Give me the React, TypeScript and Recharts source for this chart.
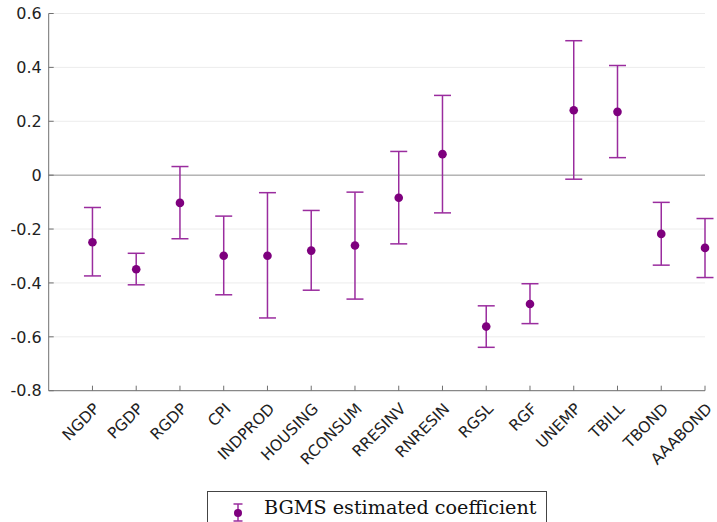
import React from 'react';
import {
  ComposedChart,
  Scatter,
  ErrorBar,
  XAxis,
  YAxis,
  CartesianGrid,
  ReferenceLine,
} from 'recharts';

// Forecast variables on the horizontal axis
const variables = [
  'NGDP', 'PGDP', 'RGDP', 'CPI', 'INDPROD', 'HOUSING', 'RCONSUM', 'RRESINV',
  'RNRESIN', 'RGSL', 'RGF', 'UNEMP', 'TBILL', 'TBOND', 'AAABOND',
];

// Point estimates of the BGMS coefficient
const estimates = [
  -0.249, -0.349, -0.103, -0.299, -0.299, -0.28, -0.261, -0.084,
  0.078, -0.562, -0.478, 0.241, 0.235, -0.218, -0.27,
];

// Lower and upper ends of the confidence intervals
const lowerBounds = [
  -0.374, -0.407, -0.236, -0.444, -0.53, -0.427, -0.46, -0.255,
  -0.14, -0.639, -0.551, -0.015, 0.065, -0.334, -0.38,
];
const upperBounds = [
  -0.12, -0.29, 0.032, -0.152, -0.065, -0.131, -0.063, 0.088,
  0.296, -0.485, -0.403, 0.499, 0.407, -0.101, -0.161,
];

const yTicks = [-0.8, -0.6, -0.4, -0.2, 0, 0.2, 0.4, 0.6];
const xTicks = variables.map((_, i) => i + 1);

const data = variables.map((name, i) => ({
  x: i + 1,
  y: estimates[i],
  err: [estimates[i] - lowerBounds[i], upperBounds[i] - estimates[i]],
}));

const AXIS_COLOR = '#707070';
const BAR_COLOR = '#9a2c9e';
const DOT_COLOR = '#7e007e';
const SANS = '"DejaVu Sans", Arial, sans-serif';

const XTick = (props: any) => {
  const { x, y, payload } = props;
  const ax = x + 8;
  const ay = y + 19;
  return (
    <g>
      <line x1={x} y1={y} x2={x} y2={y - 5} stroke={AXIS_COLOR} strokeWidth={1} />
      <text
        x={ax}
        y={ay}
        transform={`rotate(-45 ${ax} ${ay})`}
        textAnchor="end"
        fontFamily={SANS}
        fontSize={15.5}
        fill="#222"
      >
        {variables[payload.value - 1]}
      </text>
    </g>
  );
};

const YTick = (props: any) => {
  const { x, y, payload } = props;
  const v = payload.value;
  const label = Math.abs(v) < 1e-9 ? '0' : v.toFixed(1);
  return (
    <g>
      <line x1={x} y1={y} x2={x + 5} y2={y} stroke={AXIS_COLOR} strokeWidth={1} />
      <text
        x={x - 7}
        y={y}
        dy="0.36em"
        textAnchor="end"
        fontFamily={SANS}
        fontSize={16}
        fill="#222"
      >
        {label}
      </text>
    </g>
  );
};

const Dot = (props: any) => {
  const { cx, cy } = props;
  return <circle cx={cx} cy={cy} r={4.3} fill={DOT_COLOR} />;
};

const LegendBox = () => (
  <div
    style={{
      position: 'absolute',
      left: 207,
      top: 491,
      width: 340,
      height: 40,
      border: '1px solid #444',
      background: '#fff',
      boxSizing: 'border-box',
    }}
  >
    <svg width={340} height={40} style={{ display: 'block' }}>
      <line x1={30} y1={12} x2={30} y2={29} stroke={BAR_COLOR} strokeWidth={1.5} />
      <line x1={25.5} y1={12} x2={34.5} y2={12} stroke={BAR_COLOR} strokeWidth={1.5} />
      <line x1={25.5} y1={29} x2={34.5} y2={29} stroke={BAR_COLOR} strokeWidth={1.5} />
      <circle cx={30} cy={21} r={4} fill={DOT_COLOR} />
      <text
        x={56}
        y={21.5}
        fontFamily='"DejaVu Serif", "Liberation Serif", serif'
        fontSize={19.2}
        fill="#111"
      >
        BGMS estimated coefficient
      </text>
    </svg>
  </div>
);

export default function App() {
  return (
    <div
      style={{
        position: 'absolute',
        left: 0,
        top: 0,
        width: 717,
        height: 522,
        overflow: 'hidden',
        background: '#fff',
      }}
    >
      <ComposedChart
        width={717}
        height={522}
        data={data}
        margin={{ top: 13.5, right: 12, bottom: 31.3, left: 0 }}
      >
        <CartesianGrid horizontal vertical={false} stroke="#ececec" strokeWidth={1} />
        <XAxis
          dataKey="x"
          type="number"
          domain={[0, 15]}
          ticks={xTicks}
          interval={0}
          height={100}
          tickSize={0}
          tickMargin={0}
          tickLine={false}
          axisLine={{ stroke: AXIS_COLOR, strokeWidth: 1 }}
          tick={<XTick />}
        />
        <YAxis
          dataKey="y"
          type="number"
          domain={[-0.8, 0.6]}
          ticks={yTicks}
          interval={0}
          width={48.7}
          tickSize={0}
          tickMargin={0}
          tickLine={false}
          axisLine={{ stroke: AXIS_COLOR, strokeWidth: 1 }}
          tick={<YTick />}
        />
        <ReferenceLine y={0} stroke="#b5b5b5" strokeWidth={1.5} />
        <Scatter data={data} dataKey="y" shape={<Dot />} isAnimationActive={false}>
          <ErrorBar
            dataKey="err"
            direction="y"
            width={8.5}
            stroke={BAR_COLOR}
            strokeWidth={1.5}
            isAnimationActive={false}
          />
        </Scatter>
      </ComposedChart>
      <LegendBox />
    </div>
  );
}
